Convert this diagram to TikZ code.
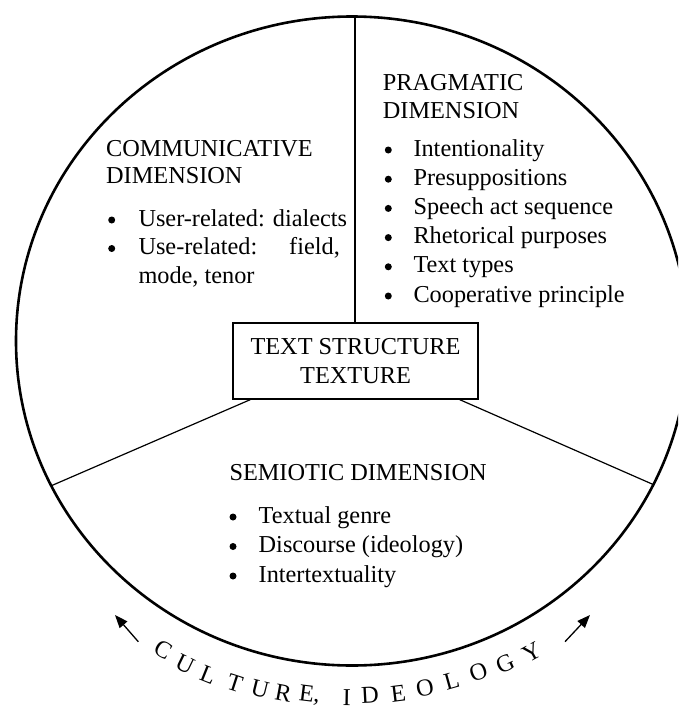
\documentclass[tikz,border=0pt]{standalone}
\usepackage{fontspec}
\setmainfont{Liberation Serif}
\usetikzlibrary{arrows.meta,calc}
\begin{document}
\begin{tikzpicture}[x=1pt,y=-1pt,
  body/.style={font=\fontsize{24.3}{29}\selectfont},
  txt/.style={body, anchor=base west, inner sep=0pt},
  dot/.style={circle, fill, inner sep=0pt, minimum size=7pt},
  arcletter/.style={body, inner sep=0pt},
  rim/.style={line width=2.6pt},
  divider/.style={line width=1.2pt},
  corebox/.style={body, draw, line width=1.2pt, align=center,
    minimum width=245pt, minimum height=76pt, inner sep=0pt},
  flow/.style={line width=1.3pt, -{Triangle[length=13pt,width=10pt]}}
]
\useasboundingbox (0,0) rectangle (678,709);
\clip (0,0) rectangle (678,709);

% outer rim
\coordinate (c) at (352,341);
\draw[rim] (c) ellipse [x radius=336pt, y radius=324.5pt];

% central box
\node[corebox] (core) at (355.5,361) {TEXT STRUCTURE\\TEXTURE};

% dividing lines
\coordinate (top) at (355,16.5);
\coordinate (rimL) at (51.4,485.7);
\coordinate (rimR) at (653.4,484.6);
\draw[divider] (top) -- (top |- core.north);
\draw[divider] ($(core.south west)+(18,0)$) -- (rimL);
\draw[divider] ($(core.south east)+(-19,0)$) -- (rimR);

% communicative dimension
\node[txt] (ch1) at (106,156) {COMMUNICATIVE};
\node[txt] (ch2) at (106,183) {DIMENSION};
\node[dot] (cb1) at (111.7,220) {};
\node[txt] (ct1) at (138.3,226) {User-related: dialects};
\node[dot] (cb2) at (111.7,248.5) {};
\node[txt] (ct2) at (138.3,254.5) {Use-related:\hspace{32pt}field,};
\node[txt] (ct3) at (138.3,283) {mode, tenor};

% pragmatic dimension
\node[txt] (ph1) at (382.7,90) {PRAGMATIC};
\node[txt] (ph2) at (382.7,118) {DIMENSION};
\foreach \t [count=\i] in {Intentionality, Presuppositions, Speech act sequence,
    Rhetorical purposes, Text types, Cooperative principle} {
  \node[dot] (pb\i) at (388.3,{150+29.2*(\i-1)}) {};
  \node[txt] (pt\i) at (413.3,{156+29.2*(\i-1)}) {\t};
}

% semiotic dimension
\node[txt] (sh1) at (229.3,480) {SEMIOTIC DIMENSION};
\foreach \t [count=\i] in {Textual genre, Discourse (ideology), Intertextuality} {
  \node[dot] (sb\i) at (233,{517+29.5*(\i-1)}) {};
  \node[txt] (st\i) at (258.5,{523+29.5*(\i-1)}) {\t};
}

% curved caption below the rim
\begin{scope}[yshift=3pt]
\foreach \x/\y/\r/\l [count=\i] in {163.3/652.5/-30/C, 185/667.5/-26/U, 208.3/677.5/-22/L,
    235/685.8/-18/T, 260/692.5/-14/U, 283.3/695.8/-10.6/R, 309.5/698.4/-7/{E,},
    346.7/700.2/-1/I, 370/698.2/3/D, 398.3/696.5/7/E, 425/690.8/11.4/O,
    451.7/684.2/15.6/L, 478.3/674.8/20/O, 505/666.8/24.3/G, 531.7/655.8/28.7/Y} {
  \node[arcletter, rotate=\r] (l\i) at (\x,\y) {\l};
}
\end{scope}

% arrows
\coordinate (la0) at (138.3,641.7);
\coordinate (la1) at (115,615);
\coordinate (ra0) at (565,641.7);
\coordinate (ra1) at (590,615);
\draw[flow] (la0) -- (la1);
\draw[flow] (ra0) -- (ra1);
\end{tikzpicture}
\end{document}
